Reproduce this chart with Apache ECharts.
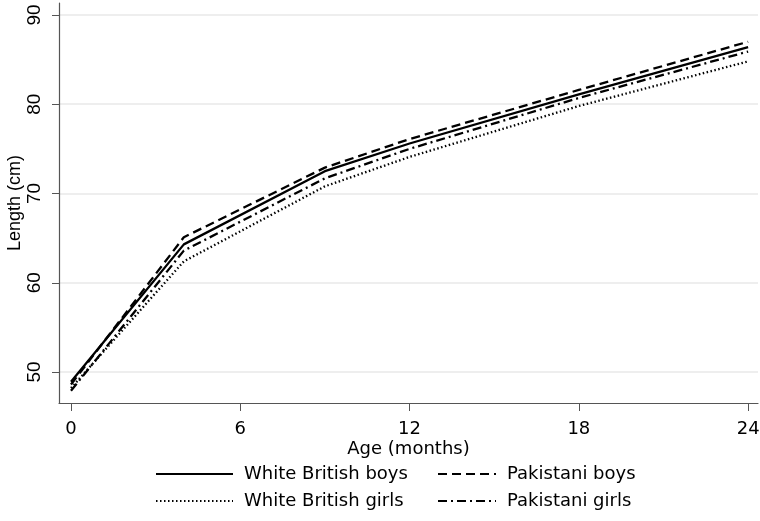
<!DOCTYPE html>
<html>
<head>
<meta charset="utf-8">
<script src="https://cdn.jsdelivr.net/npm/echarts@6/dist/echarts.min.js"></script>
<style>html,body{margin:0;padding:0;background:#fff}#c{width:760px;height:521px}</style>
</head>
<body>
<div id="c"></div>
<script>
const ages = [0, 4, 9, 12, 18, 24];
const whiteBritishBoys  = [48.9, 64.3, 72.5, 75.6, 81.1, 86.4];
const pakistaniBoys     = [48.6, 65.1, 72.9, 76.1, 81.6, 87.0];
const whiteBritishGirls = [48.2, 62.4, 70.8, 74.1, 79.8, 84.8];
const pakistaniGirls    = [47.9, 63.6, 71.7, 75.0, 80.7, 85.9];
const xTicks = [0, 6, 12, 18, 24];
const yTicks = [50, 60, 70, 80, 90];
const names = ['White British boys', 'Pakistani boys', 'White British girls', 'Pakistani girls'];

function pts(v) { return ages.map((a, i) => [a, v[i]]); }
function ser(name, v, type) {
  return {
    name, type: 'line', data: pts(v), symbol: 'none', silent: true,
    lineStyle: { color: '#000', width: 2.3, type: type, cap: 'butt' },
    itemStyle: { color: '#000' }
  };
}
const txt = { color: '#000', fontFamily: 'DejaVu Sans', fontSize: 18 };
function leg(name, left, top, w) {
  return {
    data: [name], left, top, itemWidth: w, itemHeight: 14, padding: 0,
    selectedMode: false, itemStyle: { opacity: 0 },
    textStyle: Object.assign({ padding: [0, 0, 0, 6] }, txt)
  };
}
const chart = echarts.init(document.getElementById('c'));
chart.setOption({
  animation: false,
  backgroundColor: '#fff',
  grid: { left: 59, right: 2, top: 3, bottom: 118, containLabel: false, outerBoundsMode: 'none' },
  xAxis: {
    type: 'value', min: -0.425, max: 24.35,
    name: 'Age (months)', nameLocation: 'middle', nameGap: 37, nameMoveOverlap: false,
    nameTextStyle: txt,
    axisLine: { show: true, onZero: false, lineStyle: { color: '#555', width: 1.2 } },
    axisTick: { show: true, length: 8, customValues: xTicks, lineStyle: { color: '#555' } },
    axisLabel: { customValues: xTicks, margin: 17, ...txt },
    splitLine: { show: false }
  },
  yAxis: {
    type: 'value', min: 46.53, max: 91.34,
    name: 'Length (cm)', nameLocation: 'middle', nameGap: 35, nameMoveOverlap: false,
    nameTextStyle: { color: '#000', fontFamily: 'Liberation Sans', fontSize: 18 },
    axisLine: { show: true, onZero: false, lineStyle: { color: '#555', width: 1.2 } },
    axisTick: { show: true, length: 7, customValues: yTicks, lineStyle: { color: '#555' } },
    axisLabel: { customValues: yTicks, rotate: 90, margin: 15, color: '#000', fontFamily: 'Liberation Sans', fontSize: 19 },
    splitLine: { show: true, lineStyle: { color: '#e8e8e8', width: 1.5 } }
  },
  legend: [
    leg(names[0], 155, 465, 77),
    leg(names[1], 437, 465, 58),
    leg(names[2], 155, 492, 77),
    leg(names[3], 437, 492, 58)
  ],
  series: [
    ser(names[0], whiteBritishBoys, 'solid'),
    ser(names[1], pakistaniBoys, [9, 5]),
    ser(names[2], whiteBritishGirls, [1.5, 2.5]),
    ser(names[3], pakistaniGirls, [9, 4, 2, 4])
  ]
});
</script>
</body>
</html>
